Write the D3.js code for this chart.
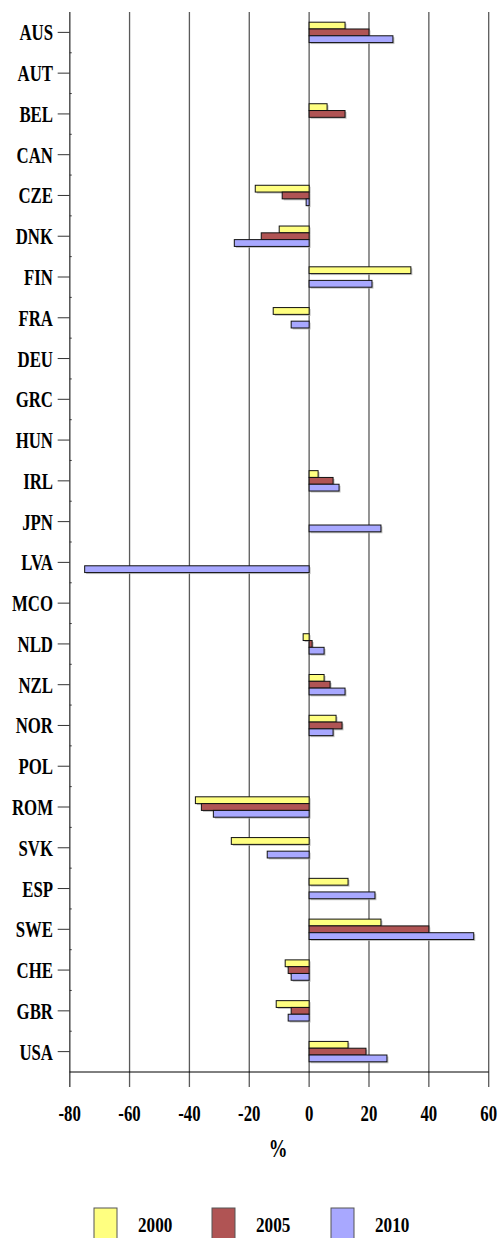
<!DOCTYPE html>
<html><head><meta charset="utf-8">
<script src="https://cdn.jsdelivr.net/npm/d3@7/dist/d3.min.js"></script>
<style>
html,body{margin:0;padding:0;background:#fff;}
svg{display:block;}
text{font-family:"Liberation Serif","Times New Roman",serif;font-weight:bold;fill:#000;}
</style></head>
<body>
<svg id="chart" width="500" height="1238"></svg>
<script>
const categories = ["AUS","AUT","BEL","CAN","CZE","DNK","FIN","FRA","DEU","GRC","HUN","IRL","JPN","LVA","MCO","NLD","NZL","NOR","POL","ROM","SVK","ESP","SWE","CHE","GBR","USA"];
const seriesNames = ["2000","2005","2010"];
const values2000 = [12,null,6,null,-18,-10,34,-12,null,null,null,3,null,null,null,-2,5,9,null,-38,-26,13,24,-8,-11,13];
const values2005 = [20,null,12,null,-9,-16,null,null,null,null,null,8,null,null,null,1,7,11,null,-36,null,null,40,-7,-6,19];
const values2010 = [28,null,null,null,-1,-25,21,-6,null,null,null,10,24,-75,null,5,12,8,null,-32,-14,22,55,-6,-7,26];
const xTicks = [-80,-60,-40,-20,0,20,40,60];
const colors = ["#FFFF80","#B05454","#A8A8FF"];
const xLabel = "%";

(function(){
const seriesValues = [values2000, values2005, values2010];
const svg = d3.select("#chart");
const pL = 69.7, pR = 488.7, pT = 12, pB = 1072;

const x = d3.scaleLinear().domain([-80,60]).range([pL,pR]);
const y = d3.scaleBand().domain(categories).range([pT,pB]).paddingInner(0).paddingOuter(0);
const yInner = d3.scaleBand().domain(seriesNames).range([y.bandwidth()*0.25, y.bandwidth()*0.75]);

// gridlines
svg.append("g").selectAll("line").data(xTicks).join("line")
  .attr("x1", d=>x(d)).attr("x2", d=>x(d))
  .attr("y1", pT).attr("y2", pB+15)
  .attr("stroke", "#5a5a5a").attr("stroke-width", 1.3);

// bars
seriesNames.forEach((s, si) => {
  const data = categories.map((c,i)=>({c, v: seriesValues[si][i]})).filter(d=>d.v!==null);
  const g = svg.append("g");
  g.selectAll("rect.sh").data(data).join("rect").attr("class","sh")
    .attr("x", d=>Math.min(x(0),x(d.v))+1.5)
    .attr("y", d=>y(d.c)+yInner(s)+1.5)
    .attr("width", d=>Math.abs(x(d.v)-x(0)))
    .attr("height", yInner.bandwidth())
    .attr("fill", "#aaa").attr("opacity", 0.7);
  g.selectAll("rect.bar").data(data).join("rect").attr("class","bar")
    .attr("x", d=>Math.min(x(0),x(d.v)))
    .attr("y", d=>y(d.c)+yInner(s))
    .attr("width", d=>Math.abs(x(d.v)-x(0)))
    .attr("height", yInner.bandwidth())
    .attr("fill", colors[si]).attr("stroke", "#111").attr("stroke-width", 1);
});

// left axis
svg.append("line").attr("x1", pL).attr("x2", pL).attr("y1", pT).attr("y2", pB+15)
  .attr("stroke", "#5a5a5a").attr("stroke-width", 1.3);
// major ticks
svg.append("g").selectAll("line").data(categories).join("line")
  .attr("x1", pL-12).attr("x2", pL)
  .attr("y1", d=>y(d)+y.bandwidth()/2).attr("y2", d=>y(d)+y.bandwidth()/2)
  .attr("stroke", "#333").attr("stroke-width", 1);
// minor ticks at band boundaries
svg.append("g").selectAll("line").data(categories.slice(1)).join("line")
  .attr("x1", pL).attr("x2", pL+2)
  .attr("y1", d=>y(d)).attr("y2", d=>y(d))
  .attr("stroke", "#333").attr("stroke-width", 1);
// category labels
svg.append("g").selectAll("text").data(categories).join("text")
  .attr("transform", d=>`translate(53,${y(d)+y.bandwidth()/2+8}) scale(0.7,1)`)
  .attr("text-anchor", "end")
  .attr("font-size", 24)
  .text(d=>d);

// bottom axis
svg.append("line").attr("x1", pL).attr("x2", pR).attr("y1", pB).attr("y2", pB)
  .attr("stroke", "#000").attr("stroke-width", 1);
svg.append("g").selectAll("text").data(xTicks).join("text")
  .attr("transform", d=>`translate(${x(d)},1121) scale(0.7,1)`)
  .attr("text-anchor", "middle")
  .attr("font-size", 24)
  .text(d=>d);
svg.append("text")
  .attr("transform", `translate(278,1157) scale(0.75,1)`)
  .attr("text-anchor","middle").attr("font-size", 25).text(xLabel);

// legend
const legendX = [94, 212, 331];
const lg = svg.append("g").selectAll("g").data(seriesNames).join("g")
  .attr("transform", (d,i)=>`translate(${legendX[i]},1208)`);
lg.append("rect").attr("width", 23).attr("height", 40)
  .attr("fill", (d,i)=>colors[i]).attr("stroke", "#555").attr("stroke-width", 1);
lg.append("text").attr("transform", "translate(44,23.5) scale(0.78,1)")
  .attr("font-size", 22).text(d=>d);
})();
</script>
</body></html>
